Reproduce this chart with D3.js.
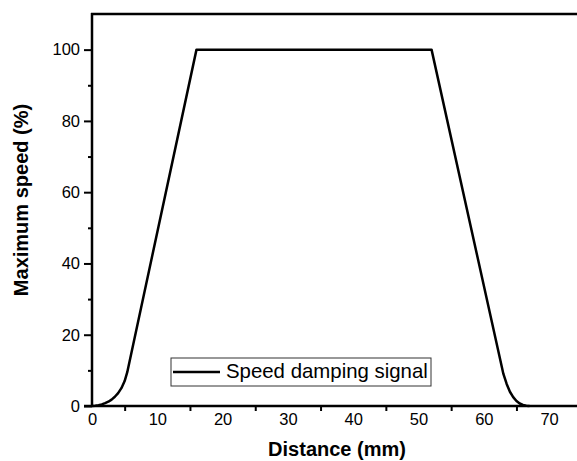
<!DOCTYPE html>
<html>
<head>
<meta charset="utf-8">
<script src="https://cdn.jsdelivr.net/npm/d3@7"></script>
<style>
  body { margin: 0; background: #fff; }
  svg { display: block; font-family: "Liberation Sans", Arial, sans-serif; }
</style>
</head>
<body>
<div id="chart"></div>
<script>
// distance (mm) / max speed (%)
const distance = [0, 0.5, 1, 1.5, 2, 2.5, 3, 3.5, 4, 4.5, 5, 5.4, 16, 52, 63, 63.5, 64, 64.5, 65, 65.5, 66, 66.5, 67];
const speed    = [0, 0.05, 0.2, 0.45, 0.8, 1.2, 1.8, 2.6, 3.6, 5.0, 7.0, 9.5, 100, 100, 9.0, 6.2, 4.0, 2.5, 1.4, 0.7, 0.3, 0.1, 0];

const xTicks = [0, 10, 20, 30, 40, 50, 60, 70];
const xMinor = [5, 15, 25, 35, 45, 55, 65, 75];
const yTicks = [0, 20, 40, 60, 80, 100];
const yMinor = [10, 30, 50, 70, 90];
const legendLabel = "Speed damping signal";

const width = 577, height = 461;

const svg = d3.select("#chart").append("svg")
    .attr("width", width)
    .attr("height", height);

const x = d3.scaleLinear().domain([0, 80]).range([92, 92 + 80 * 6.53]);
const y = d3.scaleLinear().domain([0, 110]).range([406, 14]);

/***AXES***/
svg.append("g")
    .attr("transform", "translate(" + x(0) + ",0)")
    .call(d3.axisLeft(y).tickValues(yTicks).tickSize(8).tickPadding(4));
svg.append("g")
    .attr("transform", "translate(" + x(0) + ",0)")
    .call(d3.axisLeft(y).tickValues(yMinor).tickSize(4).tickFormat(""));

svg.append("g")
    .attr("transform", "translate(0," + y(0) + ")")
    .call(d3.axisBottom(x).tickValues(xTicks).tickSize(0).tickPadding(7));
svg.append("g")
    .attr("transform", "translate(0," + y(0) + ")")
    .call(d3.axisBottom(x).tickValues(xMinor).tickSize(5).tickFormat(""));

svg.selectAll(".domain").remove();
svg.selectAll(".tick line").attr("stroke", "#000").attr("stroke-width", 2);
svg.selectAll(".tick text")
    .attr("fill", "#000")
    .style("font-size", "16.5px")
    .style("font-family", "'Liberation Sans', Arial, sans-serif");

// axis lines + top border
svg.append("line")
    .attr("x1", x(0)).attr("x2", x(0))
    .attr("y1", y(110) - 1).attr("y2", y(0) + 1)
    .attr("stroke", "#000").attr("stroke-width", 2.5);
svg.append("line")
    .attr("x1", x(0) - 8).attr("x2", width)
    .attr("y1", y(0)).attr("y2", y(0))
    .attr("stroke", "#000").attr("stroke-width", 2.5);
svg.append("line")
    .attr("x1", x(0) - 1).attr("x2", width)
    .attr("y1", y(110)).attr("y2", y(110))
    .attr("stroke", "#000").attr("stroke-width", 2.5);

/***CURVE***/
const pts = distance.map((d, i) => [d, speed[i]]);
const line = d3.line()
    .x(d => x(d[0]))
    .y(d => y(d[1]));
svg.append("path")
    .datum(pts)
    .attr("fill", "none")
    .attr("stroke", "#000")
    .attr("stroke-width", 2.5)
    .attr("stroke-linejoin", "round")
    .attr("d", line);

/***LEGEND***/
const leg = svg.append("g").attr("transform", "translate(171,358)");
leg.append("rect")
    .attr("width", 260).attr("height", 28)
    .attr("fill", "#fff")
    .attr("stroke", "#333").attr("stroke-width", 1);
leg.append("line")
    .attr("x1", 2).attr("x2", 49)
    .attr("y1", 14).attr("y2", 14)
    .attr("stroke", "#000").attr("stroke-width", 2.5);
leg.append("text")
    .attr("x", 55).attr("y", 20)
    .style("font-size", "20.4px")
    .attr("fill", "#000")
    .text(legendLabel);

/***TITLES***/
svg.append("text")
    .attr("x", 337).attr("y", 456)
    .attr("text-anchor", "middle")
    .style("font-size", "20px")
    .style("font-weight", "bold")
    .attr("fill", "#000")
    .text("Distance (mm)");
svg.append("text")
    .attr("transform", "translate(28,200) rotate(-90)")
    .attr("text-anchor", "middle")
    .style("font-size", "20px")
    .style("font-weight", "bold")
    .attr("fill", "#000")
    .text("Maximum speed (%)");
</script>
</body>
</html>
